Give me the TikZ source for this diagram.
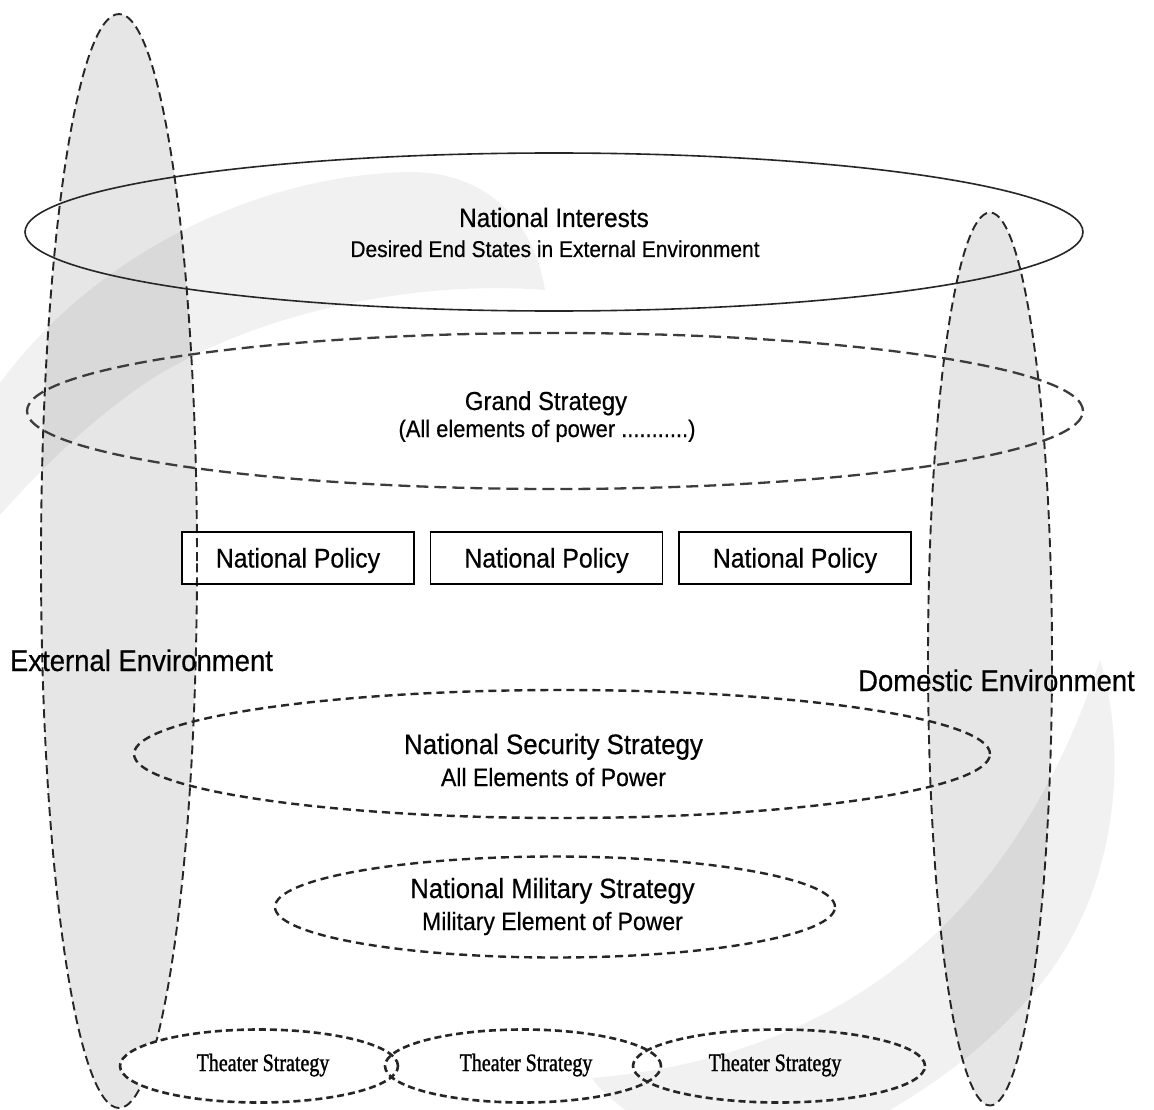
\documentclass[tikz,border=0pt]{standalone}
\usepackage{fontspec}
\setmainfont{Liberation Sans}[FakeStretch=0.92,FakeBold=0.5]
\newfontfamily\theaterfont{Liberation Serif}[FakeStretch=0.8,FakeBold=1.2]
\usetikzlibrary{shapes.geometric}
\definecolor{envgray}{HTML}{E6E6E6}
\definecolor{ink}{HTML}{262626}
\newcommand{\myfs}[1]{\fontsize{#1}{#1}\selectfont}
\pgfdeclarelayer{envfill}
\pgfdeclarelayer{boxfill}
\pgfdeclarelayer{envline}
\pgfdeclarelayer{thfill}
\pgfdeclarelayer{mark}
\pgfsetlayers{envfill,boxfill,envline,thfill,mark,main}
\tikzset{
  elli/.style={ellipse, inner sep=0pt, outer sep=0pt},
  envL/.style={elli, minimum width=156pt, minimum height=1094pt},
  envR/.style={elli, minimum width=124pt, minimum height=893pt},
  envline/.style={draw=ink, line width=1.9pt, dash pattern=on 9pt off 5pt},
  niline/.style={elli, draw=ink, line width=1.6pt, minimum width=1058pt, minimum height=158pt},
  gsline/.style={elli, draw=ink!90, line width=2.3pt, dash pattern=on 12pt off 6pt, minimum width=1056pt, minimum height=156pt},
  nssline/.style={elli, draw=ink, line width=2.4pt, dash pattern=on 8pt off 5pt},
  thgeom/.style={elli, minimum height=73pt},
  thline/.style={draw=ink, line width=2.6pt, dash pattern=on 7pt off 4pt},
  policy/.style={draw=black, line width=1.4pt, minimum width=232pt, minimum height=52pt, inner sep=0pt, text height=19pt, text depth=0pt, font=\myfs{27}},
  lbl/.style={anchor=base, inner sep=0pt, text=black},
  thlbl/.style={anchor=base, inner sep=0pt, font=\theaterfont\myfs{25}},
  wmark/.style={fill=black, fill opacity=0.055, draw=none}
}
\begin{document}
\begin{tikzpicture}[x=1pt,y=-1pt]
\useasboundingbox (0,0) rectangle (1154,1110);

% environment ellipses
\begin{pgfonlayer}{envfill}
  \fill[white] (0,0) rectangle (1154,1110);
  \node[envL, fill=envgray] (envLf) at (119,561) {};
  \node[envR, fill=envgray] (envRf) at (990,659) {};
\end{pgfonlayer}
\begin{pgfonlayer}{envline}
  \node[envL, envline] (envLo) at (119,561) {};
  \node[envR, envline] (envRo) at (990,659) {};
\end{pgfonlayer}

% national interests and grand strategy
\node[niline] (ni) at (554,232) {};
\node[gsline] (gs) at (555,411) {};

% national policy boxes
\node[policy] (p1) at (298,558) {National Policy};
\node[policy] (p2) at (546.5,558) {National Policy};
\node[policy] (p3) at (795,558) {National Policy};
\begin{pgfonlayer}{boxfill}
  \fill[white] (p1.south west) rectangle (p1.north east);
  \fill[white] (p2.south west) rectangle (p2.north east);
  \fill[white] (p3.south west) rectangle (p3.north east);
\end{pgfonlayer}

% NSS and NMS
\node[nssline, minimum width=856pt, minimum height=128pt] (nss) at (562,754) {};
\node[nssline, minimum width=560pt, minimum height=101pt] (nms) at (555,907) {};

% theater strategy ellipses
\begin{pgfonlayer}{thfill}
  \node[thgeom, minimum width=278pt, fill=white] (t1f) at (259,1066) {};
  \node[thgeom, minimum width=276pt, fill=white] (t2f) at (523,1066) {};
  \node[thgeom, minimum width=292pt, fill=white] (t3f) at (779,1066) {};
\end{pgfonlayer}
\node[thgeom, minimum width=278pt, thline] (t1) at (259,1066) {};
\node[thgeom, minimum width=276pt, thline] (t2) at (523,1066) {};
\node[thgeom, minimum width=292pt, thline] (t3) at (779,1066) {};

% watermark swooshes
\begin{pgfonlayer}{mark}
  \path[wmark] (0,383) .. controls (90,260) and (250,175) .. (410,172)
     .. controls (490,172) and (535,225) .. (545,290)
     .. controls (420,280) and (260,310) .. (150,380)
     .. controls (90,420) and (40,470) .. (0,515) -- cycle;
  \path[wmark] (1100,660) .. controls (1125,740) and (1125,880) .. (1040,985)
     .. controls (990,1045) and (940,1080) .. (890,1110)
     -- (625,1110) .. controls (610,1098) and (598,1088) .. (592,1078)
     .. controls (800,1060) and (1000,960) .. (1100,660) -- cycle;
\end{pgfonlayer}

% labels
\node[lbl, font=\myfs{26.5}] (niT) at (554,227) {National Interests};
\node[lbl, font=\myfs{22.8}] (niS) at (555,257) {Desired End States in External Environment};
\node[lbl, font=\myfs{26}] (gsT) at (546,410) {Grand Strategy};
\node[lbl, font=\myfs{23.8}] (gsS) at (547,437) {(All elements of power ...........)};
\node[lbl, font=\myfs{29.9}] (extT) at (141.5,671) {External Environment};
\node[lbl, font=\myfs{29.9}] (domT) at (996.5,691) {Domestic Environment};
\node[lbl, font=\myfs{28.1}] (nssT) at (553.5,754) {National Security Strategy};
\node[lbl, font=\myfs{25}] (nssS) at (553.5,786) {All Elements of Power};
\node[lbl, font=\myfs{27.8}] (nmsT) at (552.5,898) {National Military Strategy};
\node[lbl, font=\myfs{25}] (nmsS) at (552.5,930) {Military Element of Power};
\node[thlbl] (t1T) at (263,1071) {Theater Strategy};
\node[thlbl] (t2T) at (526,1071) {Theater Strategy};
\node[thlbl] (t3T) at (775,1071) {Theater Strategy};
\end{tikzpicture}
\end{document}
